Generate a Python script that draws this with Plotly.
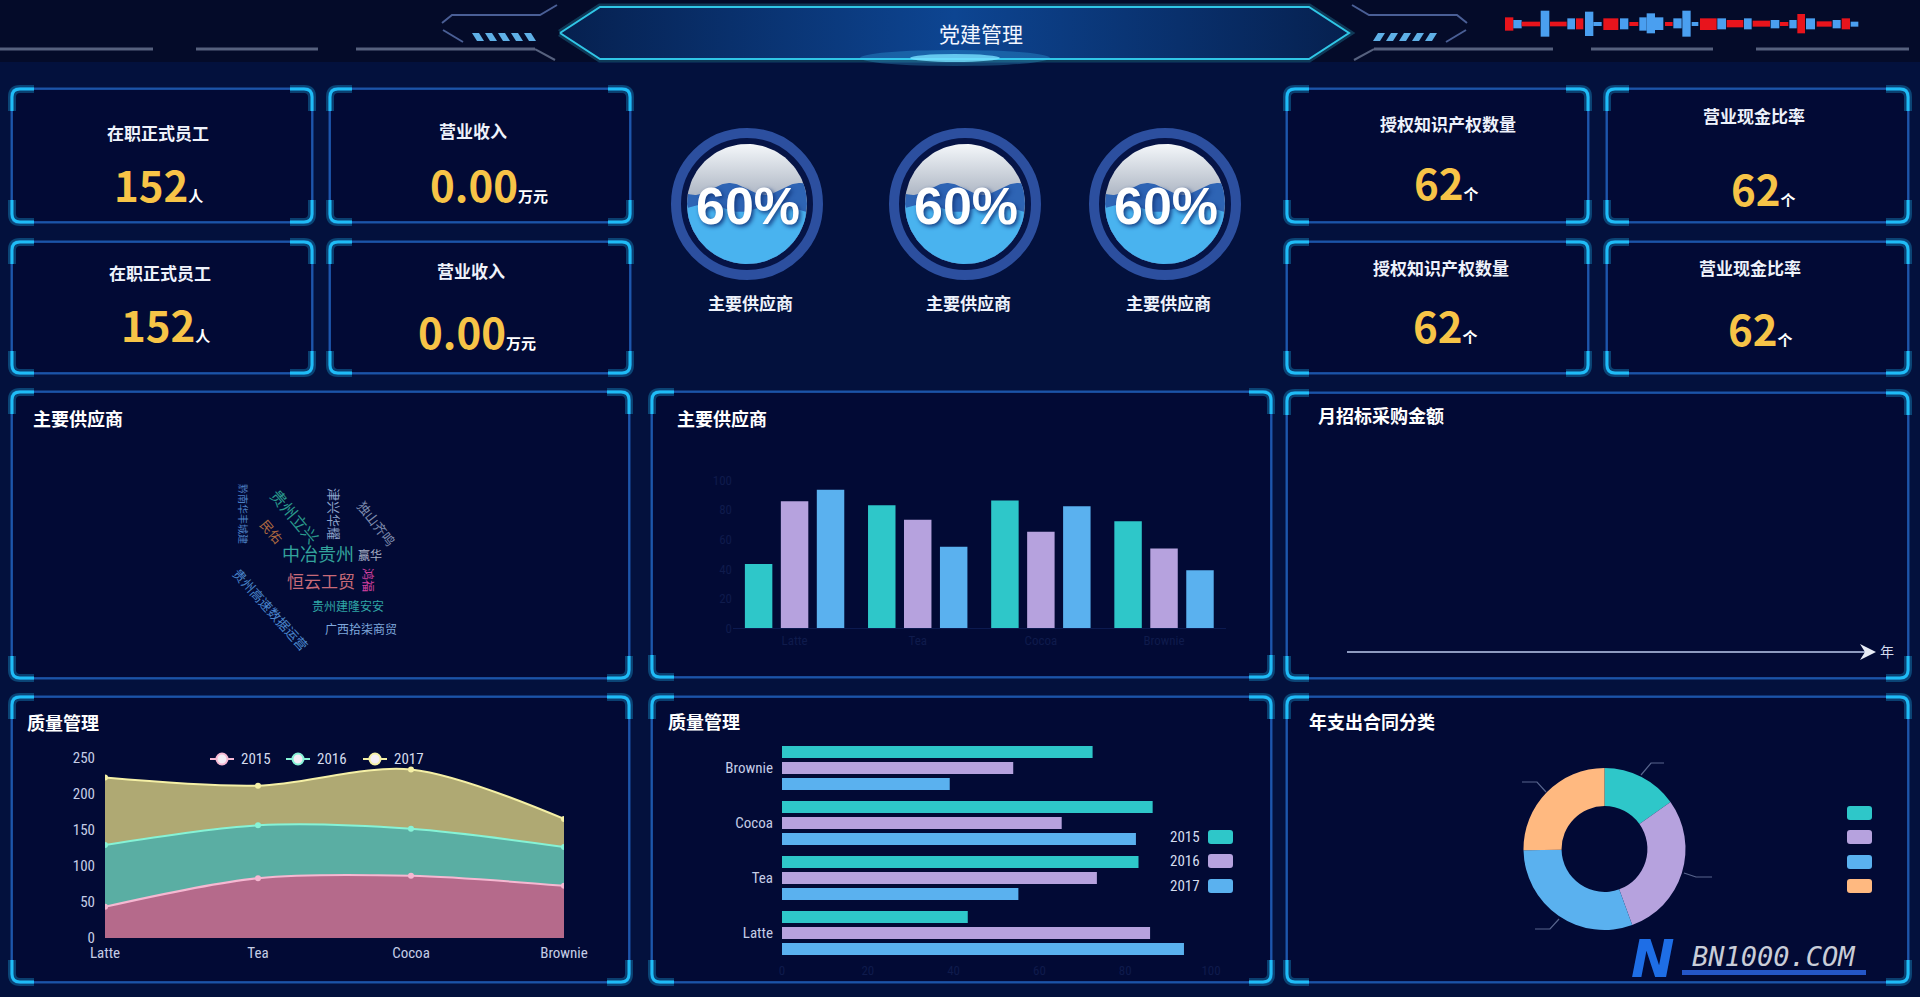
import numpy as np
import plotly.graph_objects as go

W, H = 1920, 997
BG = "#03113d"
HEADER_BG = "#040b29"
PANEL = "#020a35"
BORDER = "#2160bb"
CORNER = "#1fbcf7"
CJK = "Noto Sans CJK SC, Noto Sans, sans-serif"
NARROW = "Liberation Sans Narrow, Roboto Condensed, Open Sans, sans-serif"

# ---------------- data ----------------
products = ["Latte", "Tea", "Cocoa", "Brownie"]
years = ["2015", "2016", "2017"]
sales_2015 = [43.3, 83.1, 86.4, 72.4]
sales_2016 = [85.8, 73.4, 65.2, 53.9]
sales_2017 = [93.7, 55.1, 82.5, 39.1]

kpi_titles = ["在职正式员工", "营业收入", "在职正式员工", "营业收入",
              "授权知识产权数量", "营业现金比率", "授权知识产权数量", "营业现金比率"]
kpi_values = ["152", "0.00", "152", "0.00", "62", "62", "62", "62"]
kpi_units = ["人", "万元", "人", "万元", "个", "个", "个", "个"]

gauge_values = [60, 60, 60]
gauge_labels = ["主要供应商", "主要供应商", "主要供应商"]

supplier_words = ["中冶贵州", "恒云工贸", "贵州建隆安安", "广西拾柒商贸", "贵州高速数据运营",
                  "赢华", "鸿福", "贵州立兴", "民佑", "津兴华耀", "独山齐鸣", "黔南华丰城建"]

contract_types = ["工程类", "服务类", "物资类", "其他类"]
contract_values = [15, 29, 30, 25]

series_colors = ["#2ec7c9", "#b6a2de", "#5ab1ef"]
pie_colors = ["#2ec7c9", "#b6a2de", "#5ab1ef", "#ffb980"]

# ---------------- helpers ----------------
def fx(x):
    return x / W


def fy(y):
    return 1 - y / H


shapes = []
annotations = []
traces = []


def path_str(cmds):
    out = []
    for c in cmds:
        op, nums = c[0], c[1:]
        pts = [f"{fx(nums[i]):.5f},{fy(nums[i + 1]):.5f}" for i in range(0, len(nums), 2)]
        out.append(op + " " + " ".join(pts))
    return " ".join(out)


def add_path(cmds, line=None, lw=0, fill=None, layer="below", opacity=1.0):
    shapes.append(dict(type="path", xref="paper", yref="paper", path=path_str(cmds),
                       line=dict(color=line or "rgba(0,0,0,0)", width=lw),
                       fillcolor=fill or "rgba(0,0,0,0)", layer=layer, opacity=opacity))


def add_rect(x0, y0, x1, y1, fill, layer="below", opacity=1.0):
    shapes.append(dict(type="rect", xref="paper", yref="paper", x0=fx(x0), x1=fx(x1),
                       y0=fy(y1), y1=fy(y0), fillcolor=fill, line=dict(width=0),
                       layer=layer, opacity=opacity))


def add_circle(cx, cy, r, fill=None, line=None, lw=0, layer="below", opacity=1.0):
    shapes.append(dict(type="circle", xref="paper", yref="paper", x0=fx(cx - r), x1=fx(cx + r),
                       y0=fy(cy + r), y1=fy(cy - r), fillcolor=fill or "rgba(0,0,0,0)",
                       line=dict(color=line or "rgba(0,0,0,0)", width=lw), layer=layer,
                       opacity=opacity))


def text(x, y, s, size=14, color="#ffffff", family=CJK, xanchor="center", yanchor="middle",
         weight="normal", angle=0, style="normal", shadow=None):
    f = dict(size=size, color=color, family=family, weight=weight, style=style)
    if shadow:
        f["shadow"] = shadow
    annotations.append(dict(x=fx(x), y=fy(y), xref="paper", yref="paper", text=s,
                            showarrow=False, xanchor=xanchor, yanchor=yanchor, font=f,
                            textangle=angle))


def rounded(x0, y0, x1, y1, r):
    return [("M", x0 + r, y0), ("L", x1 - r, y0), ("Q", x1, y0, x1, y0 + r), ("L", x1, y1 - r),
            ("Q", x1, y1, x1 - r, y1), ("L", x0 + r, y1), ("Q", x0, y1, x0, y1 - r),
            ("L", x0, y0 + r), ("Q", x0, y0, x0 + r, y0), ("Z",)]


def frame(x0, y0, x1, y1):
    add_path(rounded(x0, y0, x1, y1, 8), line="rgba(40,110,210,0.35)", lw=4)
    add_path(rounded(x0, y0, x1, y1, 8), line=BORDER, lw=1.6, fill=PANEL)
    L, r = 22, 8
    corners = [
        [("M", x0, y0 + L), ("L", x0, y0 + r), ("Q", x0, y0, x0 + r, y0), ("L", x0 + L, y0)],
        [("M", x1 - L, y0), ("L", x1 - r, y0), ("Q", x1, y0, x1, y0 + r), ("L", x1, y0 + L)],
        [("M", x1, y1 - L), ("L", x1, y1 - r), ("Q", x1, y1, x1 - r, y1), ("L", x1 - L, y1)],
        [("M", x0 + L, y1), ("L", x0 + r, y1), ("Q", x0, y1, x0, y1 - r), ("L", x0, y1 - L)],
    ]
    for c in corners:
        add_path(c, line="rgba(31,188,247,0.30)", lw=8)
        add_path(c, line=CORNER, lw=3)


def poly_trace(xs, ys, fill, line=None, lw=0, gradient=None):
    t = go.Scatter(x=list(xs), y=list(ys), mode="lines", fill="toself", fillcolor=fill,
                   line=dict(color=line or "rgba(0,0,0,0)", width=lw), hoverinfo="skip",
                   showlegend=False, xaxis="x", yaxis="y")
    if gradient:
        t.fillgradient = gradient
    traces.append(t)


# ---------------- header ----------------
add_rect(0, 0, W, 62, HEADER_BG)
HLINE = "#56617e"
for a, b in [(0, 153), (196, 318), (356, 535)]:
    add_path([("M", a, 49), ("L", b, 49)], line=HLINE, lw=3)
    add_path([("M", 1909 - a, 49), ("L", 1909 - b, 49)], line=HLINE, lw=3)
for sgn in (1, -1):
    def mx(x):
        return x if sgn == 1 else 1909 - x
    add_path([("M", mx(535), 49), ("L", mx(555), 60)], line=HLINE, lw=2)
    add_path([("M", mx(557), 5), ("L", mx(540), 15), ("L", mx(452), 15), ("L", mx(442), 23)],
             line="#4a5f96", lw=2)
    add_path([("M", mx(443), 30), ("L", mx(463), 42)], line="#4a5f96", lw=2)
    for k in range(5):
        xs0 = 472 + k * 13
        add_path([("M", mx(xs0), 33), ("L", mx(xs0 + 7), 33), ("L", mx(xs0 + 12), 41),
                  ("L", mx(xs0 + 5), 41), ("Z",)], fill="#5fb0e6")

hex_x = [560, 600, 1309, 1349, 1309, 600, 560]
hex_y = [33, 7, 7, 33, 59, 59, 33]
traces.append(go.Scatter(x=hex_x, y=hex_y, mode="lines", line=dict(color="rgba(47,195,226,0.25)", width=7),
                         hoverinfo="skip", showlegend=False, xaxis="x", yaxis="y"))
poly_trace(hex_x, hex_y, "#0a2d6e", line="#30c6e6", lw=2,
           gradient=dict(type="horizontal", start=560, stop=1349,
                         colorscale=[[0, "#06204f"], [0.5, "#0d4592"], [1, "#06204f"]]))
shapes.append(dict(type="circle", xref="paper", yref="paper", x0=fx(860), x1=fx(1050), y0=fy(66), y1=fy(50),
                   fillcolor="rgba(63,200,255,0.25)", line=dict(width=0), layer="above"))
shapes.append(dict(type="circle", xref="paper", yref="paper", x0=fx(910), x1=fx(1000), y0=fy(62), y1=fy(54),
                   fillcolor="rgba(120,225,255,0.8)", line=dict(width=0), layer="above"))
text(981, 33, "党建管理", size=21, color="#f2f6ff")

# audio-style decoration (zoom coords -> px)
wave_segs = [(75, 100, 'r', 52, 92), (100, 125, 'b', 60, 85), (125, 180, 'r', 65, 79), (182, 208, 'b', 32, 110),
             (210, 260, 'r', 65, 79), (262, 285, 'b', 55, 88), (288, 310, 'r', 55, 88), (315, 340, 'b', 35, 108),
             (340, 365, 'b', 66, 78), (370, 415, 'r', 55, 90), (420, 445, 'b', 55, 88), (448, 475, 'r', 66, 78),
             (478, 500, 'b', 52, 92), (500, 525, 'b', 40, 100), (525, 550, 'b', 52, 90), (555, 578, 'r', 66, 78),
             (580, 605, 'b', 55, 85), (607, 632, 'b', 32, 110), (635, 655, 'b', 66, 78), (660, 710, 'r', 55, 90),
             (712, 738, 'b', 55, 88), (740, 790, 'r', 60, 82), (792, 815, 'b', 55, 88), (818, 870, 'r', 62, 80),
             (872, 898, 'b', 60, 85), (900, 925, 'r', 66, 78), (928, 950, 'b', 60, 85), (952, 975, 'r', 42, 100),
             (978, 1005, 'b', 55, 88), (1010, 1055, 'r', 64, 80), (1058, 1082, 'b', 60, 85),
             (1085, 1110, 'r', 55, 88), (1112, 1135, 'b', 65, 80)]
for a, b, c, y0, y1 in wave_segs:
    add_rect(1480 + a / 3, y0 / 3, 1480 + b / 3, y1 / 3, "#e8141c" if c == 'r' else "#4a9ff0")

# ---------------- KPI cards ----------------
cards = [(12, 89, 312, 222), (330, 89, 630, 222), (12, 242, 312, 373), (330, 242, 630, 373),
         (1287, 89, 1588, 222), (1607, 89, 1908, 222), (1287, 242, 1588, 373), (1607, 242, 1908, 373)]
title_pos = [(158, 133), (473, 131), (160, 272), (471, 270), (1448, 123), (1754, 116), (1441, 267), (1750, 268)]
value_pos = [(158, 184), (489, 184), (165, 323), (477, 330), (1446, 182), (1763, 188), (1445, 325), (1760, 328)]
for i, c in enumerate(cards):
    frame(*c)
    text(*title_pos[i], kpi_titles[i], size=17, color="#eef2fb", weight="bold")
    text(*value_pos[i], f"{kpi_values[i]}<span style='font-size:15px;fill:#ffffff'>{kpi_units[i]}</span>",
         size=42, color="#f7c447", weight="bold")

# ---------------- gauges ----------------
gauge_cx = [747, 965, 1165]
GCY, R_OUT, R_DISC = 204, 76, 60
theta = np.linspace(0, 2 * np.pi, 121)
for i, cx in enumerate(gauge_cx):
    add_circle(cx, GCY, R_OUT - 5, fill="#061446", line="#2c4f9f", lw=10)
    poly_trace(cx + R_DISC * np.cos(theta), GCY + R_DISC * np.sin(theta), "#b7c0cd",
               gradient=dict(type="vertical", start=GCY - R_DISC, stop=GCY + R_DISC,
                             colorscale=[[0, "#f4f7fa"], [0.45, "#aab3c1"], [1, "#6f7a8e"]]))
    level = GCY + R_DISC - 2 * R_DISC * gauge_values[i] / 100
    for lvl, amp, ph, col in [(level - 3, 6, 0.0, "#2e64b4"), (level + 16, 4, 2.2, "#49b3ef")]:
        xs = np.linspace(cx - R_DISC, cx + R_DISC, 121)
        dx = xs - cx
        half = np.sqrt(np.maximum(R_DISC ** 2 - dx ** 2, 0))
        top_c, bot_c = GCY - half, GCY + half
        wy = lvl + amp * np.sin(2 * np.pi * dx / 70 + ph)
        top = np.minimum(np.maximum(wy, top_c), bot_c)
        poly_trace(np.concatenate([xs, xs[::-1]]), np.concatenate([top, bot_c[::-1]]), col)
    text(cx + 1, GCY + 2, f"{gauge_values[i]}%", size=52, color="#ffffff",
         family="Liberation Sans, Arial, sans-serif", weight="bold", shadow="2px 2px 4px #143a80")
    text(cx + 3, 302, gauge_labels[i], size=17, color="#eef2fb", weight="bold")

# ---------------- panels ----------------
panels = {"A": (12, 392, 629, 678), "B": (652, 392, 1271, 677), "C": (1287, 393, 1908, 678),
          "D": (12, 697, 629, 982), "E": (652, 697, 1271, 982), "F": (1287, 697, 1908, 982)}
for p in panels.values():
    frame(*p)
text(31, 418, "主要供应商", size=18, weight="bold", xanchor="left")
text(675, 418, "主要供应商", size=18, weight="bold", xanchor="left")
text(1316, 415, "月招标采购金额", size=18, weight="bold", xanchor="left")
text(25, 722, "质量管理", size=18, weight="bold", xanchor="left")
text(666, 721, "质量管理", size=18, weight="bold", xanchor="left")
text(1307, 721, "年支出合同分类", size=18, weight="bold", xanchor="left")

# word cloud (placement: x, y, size, color, angle)
cloud_layout = [(318, 553, 18, "#33a39c", 0), (321, 580, 17, "#c86a78", 0), (348, 605, 12, "#2fa5a5", 0),
                (361, 628, 12, "#7fa8dc", 0), (271, 609, 13, "#4a86cc", 48), (370, 554, 12, "#a6aec6", 0),
                (369, 580, 12, "#d23fa0", 90), (295, 516, 16, "#2a9a8c", 50), (272, 531, 13, "#b06a40", 50),
                (335, 514, 13, "#8ea4cc", 90), (377, 523, 13, "#7e8cae", 52), (244, 514, 10, "#4c7fc4", 90)]
for w, (x, y, s, col, ang) in zip(supplier_words, cloud_layout):
    text(x, y, w, size=s, color=col, angle=ang)

# panel C empty axis with arrow
add_path([("M", 1347, 652), ("L", 1866, 652)], line="#8e9abf", lw=2)
add_path([("M", 1860, 644), ("L", 1876, 652), ("L", 1860, 660), ("L", 1865, 652), ("Z",)], fill="#e8ecf6")
text(1887, 651, "年", size=14, color="#d5dcee")

# ---------------- bar chart (panel B) ----------------
BW_B, PITCH_B = 0.223, 0.292
for i, (yr, vals) in enumerate(zip(years, [sales_2015, sales_2016, sales_2017])):
    traces.append(go.Bar(x=list(range(len(products))), y=vals, name=yr, marker=dict(color=series_colors[i], line=dict(width=0)),
                         width=BW_B, offset=(i - 1) * PITCH_B - BW_B / 2, xaxis="x4", yaxis="y4",
                         showlegend=False, hoverinfo="skip"))

# ---------------- stacked area (panel D) ----------------
area_fill = ["#b56a8b", "#5aaea3", "#afa973"]
area_line = ["#f6b8d2", "#86f3d6", "#f5f0a6"]
for i, (yr, vals) in enumerate(zip(years, [sales_2015, sales_2016, sales_2017])):
    traces.append(go.Scatter(x=list(range(len(products))), y=vals, name=yr, stackgroup="one",
                             mode="lines+markers", line=dict(shape="spline", smoothing=0.9, color=area_line[i], width=2),
                             marker=dict(size=6, color=area_line[i]), fillcolor=area_fill[i],
                             xaxis="x2", yaxis="y2", showlegend=False, hoverinfo="skip"))
# legend of panel D (drawn by hand, echarts style)
for i, yr in enumerate(years):
    mxp = [222, 298, 375][i]
    add_path([("M", mxp - 12, 759), ("L", mxp + 12, 759)], line=area_line[i], lw=2, layer="above")
    add_circle(mxp, 759, 5.5, fill="#f4eef6", line=area_line[i], lw=2, layer="above")
    text(mxp + 17, 759, yr, size=15, color="#d5dcee", family=NARROW, xanchor="left")

# ---------------- horizontal bars (panel E) ----------------
BW_E, PITCH_E = 0.218, 0.29
for i, (yr, vals) in enumerate(zip(years, [sales_2015, sales_2016, sales_2017])):
    traces.append(go.Bar(y=list(range(len(products))), x=vals, orientation="h", name=yr,
                         marker=dict(color=series_colors[i], line=dict(width=0)),
                         width=BW_E, offset=(1 - i) * PITCH_E - BW_E / 2, xaxis="x3", yaxis="y3",
                         showlegend=False, hoverinfo="skip"))
for i, yr in enumerate(years):
    yy = [837, 861, 886][i]
    text(1202, yy, yr, size=15, color="#d5dcee", family=NARROW, xanchor="right")
    add_path(rounded(1208, yy - 7, 1233, yy + 7, 3), fill=series_colors[i], layer="above")

# ---------------- donut (panel F) ----------------
PCX, PCY, PR = 1604.5, 849, 81
traces.append(go.Pie(values=contract_values, labels=contract_types, hole=0.53, sort=False,
                     direction="clockwise", rotation=0, textinfo="none", hoverinfo="skip",
                     marker=dict(colors=pie_colors, line=dict(width=0)), showlegend=False,
                     domain=dict(x=[fx(PCX - PR), fx(PCX + PR)], y=[fy(PCY + PR), fy(PCY - PR)])))
for pts in [[(1641, 775), (1651, 763), (1664, 763)], [(1546, 792), (1537, 782), (1522, 782)],
            [(1684, 873), (1696, 877), (1712, 877)], [(1559, 919), (1550, 929), (1535, 929)]]:
    add_path([("M",) + pts[0], ("L",) + pts[1], ("L",) + pts[2]], line="#58658d", lw=1.2)
for i, yy in enumerate([813, 837, 862, 886]):
    add_path(rounded(1847, yy - 7, 1872, yy + 7, 3), fill=pie_colors[i], layer="above")

# watermark
text(1653, 959, "N", size=52, color="#1e6ee6", family="DejaVu Sans, sans-serif", weight="bold", style="italic")
text(1774, 956, "BN1000.COM", size=27, color="#c9cdd8", family="DejaVu Sans Mono, monospace", style="italic")
add_rect(1682, 970, 1866, 975, "#2456c8", layer="above")

# ---------------- layout ----------------
FAINT = "#0f1b4c"
axis_hidden = dict(visible=False, fixedrange=True)
fig = go.Figure(data=traces)
fig.update_layout(
    width=W, height=H, autosize=False, margin=dict(l=0, r=0, t=0, b=0, pad=0, autoexpand=False),
    paper_bgcolor=BG, plot_bgcolor="rgba(0,0,0,0)",
    barmode="overlay", hovermode=False, showlegend=False,
    shapes=shapes, annotations=annotations,
    xaxis=dict(domain=[0, 1], range=[0, W], **axis_hidden),
    yaxis=dict(domain=[0, 1], range=[H, 0], **axis_hidden),
    xaxis2=dict(domain=[fx(105), fx(564)], range=[0, 3], tickvals=list(range(len(products))), ticktext=products,
                showgrid=False, zeroline=False, showline=False, tickfont=dict(color="#c5cde6", size=15, family=NARROW),
                ticks="", ticklabelstandoff=4, anchor="y2", fixedrange=True),
    yaxis2=dict(domain=[fy(938), fy(758)], range=[0, 250], dtick=50, showgrid=False, zeroline=False,
                showline=False, tickfont=dict(color="#c5cde6", size=15, family=NARROW), ticks="",
                ticklabelstandoff=9, anchor="x2", fixedrange=True),
    xaxis3=dict(domain=[fx(782), fx(1211)], range=[0, 100], dtick=20, showgrid=False, zeroline=False,
                showline=False, tickfont=dict(color=FAINT, size=13, family=NARROW), ticks="",
                anchor="y3", fixedrange=True),
    yaxis3=dict(domain=[fy(960.5), fy(740.5)], range=[-0.5, 3.5], tickvals=list(range(len(products))),
                ticktext=products, showgrid=False, zeroline=False, showline=False,
                tickfont=dict(color="#c5cde6", size=15, family=NARROW), ticks="", ticklabelstandoff=8,
                anchor="x3", fixedrange=True),
    xaxis4=dict(domain=[fx(733), fx(1225.6)], range=[-0.5, 3.5], tickvals=list(range(len(products))),
                ticktext=products, showgrid=False, zeroline=False, showline=True, linecolor="#0c1a50",
                tickfont=dict(color=FAINT, size=13, family=NARROW), ticks="", anchor="y4", fixedrange=True),
    yaxis4=dict(domain=[fy(628), fy(480.4)], range=[0, 100], dtick=20, showgrid=False, zeroline=False,
                showline=False, tickfont=dict(color=FAINT, size=13, family=NARROW), ticks="",
                anchor="x4", fixedrange=True),
)

fig.write_html("out.html", config=dict(displayModeBar=False, responsive=False),
               post_script="document.body.style.margin='0';document.body.style.overflow='hidden';"
                           "document.documentElement.style.background='" + BG + "';")
